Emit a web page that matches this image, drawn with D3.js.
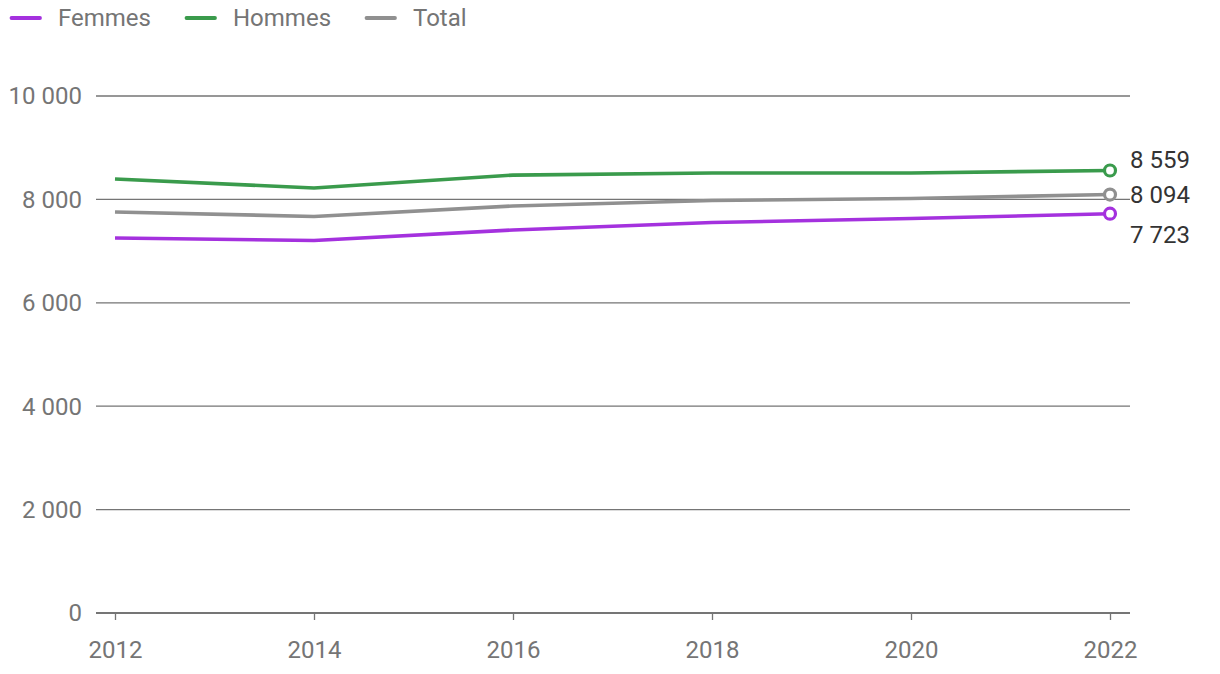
<!DOCTYPE html>
<html><head><meta charset="utf-8">
<script src="https://cdn.jsdelivr.net/npm/d3@7"></script>
<style>
body{margin:0;background:#fff;font-family:Roboto,"Noto Sans",sans-serif;}
</style></head><body>
<svg id="c" width="1220" height="674"></svg>
<script>
const years = [2012, 2014, 2016, 2018, 2020, 2022];
const femmes = [7253, 7205, 7408, 7553, 7630, 7723];
const hommes = [8395, 8220, 8470, 8510, 8512, 8559];
const total = [7756, 7670, 7872, 7979, 8018, 8094];
const seriesNames = ["Femmes", "Hommes", "Total"];
const seriesColors = ["#a431de", "#3a9b4c", "#909090"];
const yTicks = [0, 2000, 4000, 6000, 8000, 10000];

const svg = d3.select("#c");
const x = d3.scaleLinear().domain([2012, 2022]).range([115, 1110]);
const y = d3.scaleLinear().domain([0, 10000]).range([613, 96]);
const fmt = v => d3.format(",")(v).replace(/,/g, " ");

// grid
svg.append("g").selectAll("line").data(yTicks.filter(d => d > 0)).join("line")
  .attr("x1", 96).attr("x2", 1130).attr("y1", d => y(d)).attr("y2", d => y(d))
  .attr("stroke", "#757575").attr("stroke-width", 1.3);
svg.append("g").selectAll("text").data(yTicks).join("text")
  .attr("x", 82).attr("y", d => y(d)).attr("dy", "0.35em").attr("text-anchor", "end")
  .attr("fill", "#757575").attr("font-size", 24).text(d => fmt(d));

// x axis
const xa = svg.append("g").attr("transform", "translate(0,613)")
  .call(d3.axisBottom(x).tickValues(years).tickFormat(d3.format("d")).tickSize(7).tickPadding(21).tickSizeOuter(0));
xa.select(".domain").attr("stroke", "#757575").attr("stroke-width", 2).attr("d", "M96,0H1130");
xa.selectAll(".tick line").attr("stroke", "#757575").attr("stroke-width", 1.3);
xa.selectAll(".tick text").attr("fill", "#757575").attr("font-size", 24).attr("font-family", "Roboto");

const data = [femmes, hommes, total];
const line = d3.line().x((d, i) => x(years[i])).y(d => y(d));
// draw order: total, femmes, hommes
[2, 0, 1].forEach(k => {
  svg.append("path").datum(data[k]).attr("d", line).attr("fill", "none")
    .attr("stroke", seriesColors[k]).attr("stroke-width", 3.6).attr("stroke-linejoin", "round");
});
[2, 0, 1].forEach(k => {
  const v = data[k][data[k].length - 1];
  svg.append("circle").attr("cx", x(2022)).attr("cy", y(v)).attr("r", 5.5)
    .attr("fill", "#fff").attr("stroke", seriesColors[k]).attr("stroke-width", 3.2);
});
// end labels (offset to avoid overlap)
const labelY = [235, 160, 195];
[0, 1, 2].forEach(k => {
  const v = data[k][data[k].length - 1];
  svg.append("text").attr("x", 1130).attr("y", labelY[k]).attr("dy", "0.35em")
    .attr("fill", "#333").attr("font-size", 24).text(fmt(v));
});

// legend
const lx = [10, 185, 365];
seriesNames.forEach((n, k) => {
  svg.append("line").attr("x1", lx[k] + 1.5).attr("x2", lx[k] + 30).attr("y1", 18).attr("y2", 18)
    .attr("stroke", seriesColors[k]).attr("stroke-width", 3.8).attr("stroke-linecap", "round");
  svg.append("text").attr("x", lx[k] + 48).attr("y", 18).attr("dy", "0.35em")
    .attr("fill", "#757575").attr("font-size", 24).text(n);
});
</script>
</body></html>
